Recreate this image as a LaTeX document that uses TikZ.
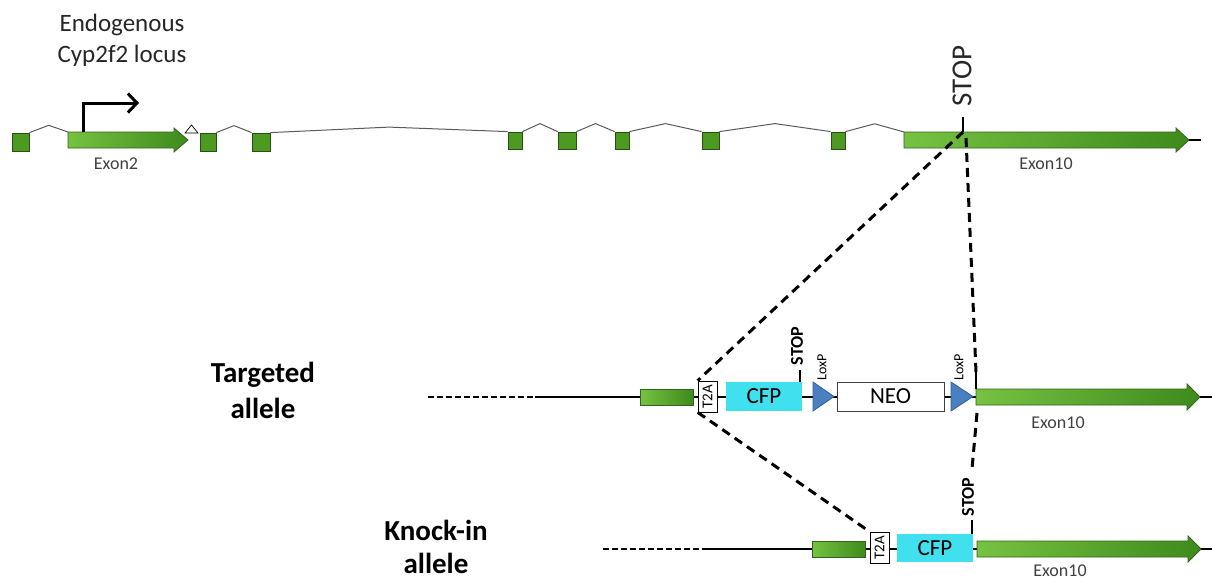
\documentclass[tikz,border=0pt]{standalone}
\usepackage{fontspec}
\usepackage{graphicx}
\setmainfont{Carlito}
\usetikzlibrary{arrows.meta,calc,backgrounds}
\definecolor{sqgreen}{RGB}{76,154,34}
\definecolor{sqborder}{RGB}{40,80,20}
\definecolor{glight}{RGB}{118,194,66}
\definecolor{gdark}{RGB}{62,138,28}
\definecolor{gborder}{RGB}{50,100,25}
\definecolor{cfpcyan}{RGB}{64,224,238}
\definecolor{loxblue}{RGB}{74,127,192}
\definecolor{loxborder}{RGB}{50,95,160}
\definecolor{labgray}{RGB}{64,64,64}
\definecolor{introngray}{RGB}{90,90,90}
% name, xstart, xbody, xtip, ycenter, halfbody, halfhead
\newcommand\genearrow[7]{%
  \draw[exonarrow] (#2,#5-#6) -- (#3,#5-#6) -- (#3,#5-#7) -- (#4,#5) -- (#3,#5+#7) -- (#3,#5+#6) -- (#2,#5+#6) -- cycle;
  \coordinate (#1s) at (#2,#5-#6);
  \coordinate (#1w) at (#2,#5);
  \coordinate (#1tip) at (#4,#5);
}
\begin{document}
\begin{tikzpicture}[x=1pt,y=-1pt,
  exonsq/.style={draw=sqborder, fill=sqgreen, line width=0.8pt, inner sep=0pt},
  exonarrow/.style={left color=glight, right color=gdark, draw=gborder, line width=0.8pt},
  exonbox/.style={left color=glight, right color=gdark, draw=gborder, line width=0.8pt, inner sep=0pt, minimum width=53pt, minimum height=16pt},
  t2abox/.style={draw=black, fill=white, line width=0.7pt, inner sep=0pt, minimum width=19pt, minimum height=31pt, font=\fontsize{15}{15}\selectfont},
  cfpbox/.style={fill=cfpcyan, inner sep=0pt, minimum width=76pt, minimum height=29pt, font=\fontsize{23}{23}\selectfont},
  neobox/.style={draw=black!75, fill=white, line width=0.8pt, inner sep=0pt, minimum width=107pt, minimum height=29pt, font=\fontsize{23}{23}\selectfont},
  loxp/.style={fill=loxblue, draw=loxborder, line width=0.8pt},
  intron/.style={draw=introngray, line width=1pt},
  peak/.style={to path={-- ($(\tikztostart)!.5!(\tikztotarget)+(0,#1)$) -- (\tikztotarget)}},
  peak/.default=-8,
  backbone/.style={line width=2.2pt},
  lefthick/.style={line width=2.8pt},
  leftdash/.style={line width=2.8pt, dash pattern=on 6pt off 3pt},
  homol/.style={line width=3pt, dash pattern=on 9pt off 6pt},
  tick/.style={line width=2pt},
  exonlab/.style={text=labgray, font=\fontsize{18}{18}\selectfont},
  loxlab/.style={rotate=90, font=\fontsize{14}{14}\selectfont, inner sep=0pt},
  stoplab/.style={rotate=90, font=\bfseries\fontsize{18}{18}\selectfont, inner sep=0pt},
  rowlab/.style={align=center}
]
\useasboundingbox (0,0) rectangle (1212,582);

% ---------- title ----------
\node[align=center, font=\fontsize{25}{31}\selectfont, text=black!85] (title) at (122,40) {Endogenous\\Cyp2f2 locus};

% ---------- endogenous locus ----------
\node[exonsq, minimum width=17pt, minimum height=18pt] (e1) at (20.5,142) {};
\genearrow{ex2}{68}{174}{188}{140}{8}{12}
\node[exonsq, minimum width=16pt, minimum height=18pt] (e3) at (208,142) {};
\node[exonsq, minimum width=18pt, minimum height=18pt] (e4) at (261,142) {};
\node[exonsq, minimum width=14pt, minimum height=17pt] (e5) at (515,140.5) {};
\node[exonsq, minimum width=18pt, minimum height=17pt] (e6) at (567,140.5) {};
\node[exonsq, minimum width=14pt, minimum height=17pt] (e7) at (622,140.5) {};
\node[exonsq, minimum width=17pt, minimum height=17pt] (e8) at (710.5,140.5) {};
\node[exonsq, minimum width=14pt, minimum height=17pt] (e9) at (838,140.5) {};
\genearrow{ex10}{904}{1176}{1189}{140}{8}{12}
\draw[line width=1.2pt] (ex10tip) -- ++(12,0) coordinate (ex10end);

\draw[intron] (e1.north east) to[peak=-7] (ex2s);
\draw[intron] (e3.north east) to[peak=-7] (e4.north west);
\draw[intron] (e4.north east) to[peak=-5] (e5.north west);
\draw[intron] (e5.north east) to[peak] (e6.north west);
\draw[intron] (e6.north east) to[peak] (e7.north west);
\draw[intron] (e7.north east) to[peak] (e8.north west);
\draw[intron] (e8.north east) to[peak] (e9.north west);
\draw[intron] (e9.north east) to[peak] (ex10s);

% small open triangle
\draw[fill=white, line width=0.7pt] (185,133) -- (191.5,125) -- (198,133) -- cycle;

% promoter arrow
\draw[line width=3pt, -{Straight Barb[length=9pt,width=19pt]}] ($(ex2s)+(15,0)$) -- ++(0,-29) -- ++(56,0);

\node[exonlab] (lx2) at (116,164) {Exon2};
\node[exonlab] (lx10a) at (1046,164) {Exon10};

% STOP on endogenous locus
\coordinate (stopA) at (963,132);
\coordinate (stopB) at (966,138);
\draw[tick] (stopA) -- ++(0,-15) coordinate (stopAtop);
\node[rotate=90, font=\fontsize{29}{29}\selectfont, inner sep=0pt, text=black!85] (stoptop) at (962,76) {STOP};

% ---------- targeted allele ----------
\node[rowlab, font=\bfseries\fontsize{29}{36}\selectfont] (targlab) at (263,390) {Targeted\\allele};
\coordinate (tl0) at (428,397);
\coordinate (tl1) at (535,397);
\node[exonbox] (tg) at (666.5,397) {};
\node[t2abox] (t2a1) at (707.5,396.5) {\rotatebox{90}{T2A}};
\node[cfpbox] (cfp1) at (764,396.5) {CFP};
\node[neobox] (neo) at (890.5,396.5) {NEO};
\draw[loxp] (813,382) -- (834,396.5) -- (813,411) -- cycle;
\coordinate (lox1) at (823,396.5);
\draw[loxp] (951,382) -- (973,396.5) -- (951,411) -- cycle;
\coordinate (lox2) at (961,396.5);
\genearrow{t10}{976}{1187}{1200}{397}{8}{13}
\draw[line width=1.2pt] (t10tip) -- ++(12,0);
\begin{scope}[on background layer]
  \draw[backbone] (tg.east) -- (t10w);
\end{scope}
\draw[leftdash] (tl0) -- (tl1);
\draw[lefthick] (tl1) -- (tg.west);
\draw[tick] ($(cfp1.north east)+(-2,0)$) -- ++(0,-12) coordinate (stop1);
\node[stoplab] (stoplab1) at (797,346) {STOP};
\node[loxlab] (loxlab1) at (822,367) {LoxP};
\node[loxlab] (loxlab2) at (959,367) {LoxP};
\draw[tick] (t10s) -- ++(0,-17) coordinate (tk1);
\coordinate (tk1b) at (977,413);
\node[exonlab] (lx10b) at (1058,423) {Exon10};

% ---------- knock-in allele ----------
\node[rowlab, font=\bfseries\fontsize{29}{33}\selectfont] (kilab) at (436,547) {Knock-in\\allele};
\coordinate (kl0) at (603,549);
\coordinate (kl1) at (708,549);
\node[exonbox] (kg) at (838.5,549) {};
\node[t2abox] (t2a2) at (879.5,547.5) {\rotatebox{90}{T2A}};
\node[cfpbox, minimum height=28pt] (cfp2) at (935,548) {CFP};
\genearrow{k10}{977}{1188}{1201}{549}{8}{13}
\draw[line width=1.2pt] (k10tip) -- ++(11,0);
\begin{scope}[on background layer]
  \draw[backbone] (kg.east) -- (k10w);
\end{scope}
\draw[leftdash] (kl0) -- (kl1);
\draw[lefthick] (kl1) -- (kg.west);
\draw[tick] ($(cfp2.north east)+(-1,0)$) -- ++(0,-14) coordinate (stop2);
\node[stoplab] (stoplab2) at (968,497) {STOP};
\coordinate (stop2top) at (972,469);
\node[exonlab] (lx10c) at (1060,571) {Exon10};

% ---------- homology dashed lines ----------
\draw[homol] (stopA) -- (t2a1.north west);
\draw[homol] (stopB) -- (tk1);
\draw[homol] (t2a1.south west) -- (t2a2.north west);
\draw[homol] (tk1b) -- (stop2top);
\end{tikzpicture}
\end{document}
